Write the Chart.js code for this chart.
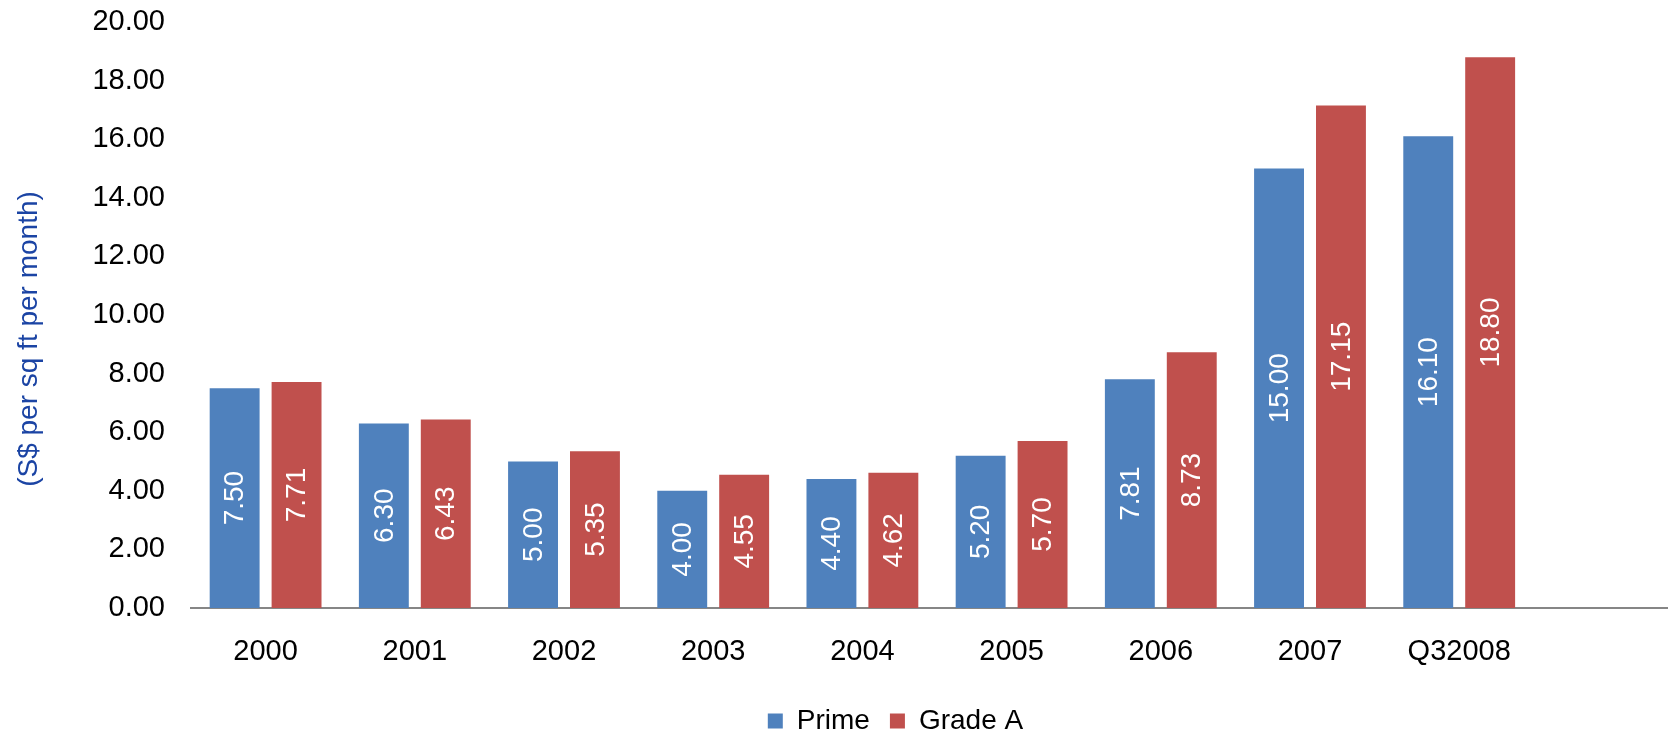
<!DOCTYPE html>
<html>
<head>
<meta charset="utf-8">
<title>Office rents</title>
<script src="https://cdn.jsdelivr.net/npm/chart.js@4.4.1/dist/chart.umd.min.js"></script>
<style>
  html, body { margin: 0; padding: 0; background: #fff; overflow: hidden; }
  #wrap { width: 1791px; height: 745px; }
</style>
</head>
<body>
<div id="wrap"><canvas id="c" width="1791" height="745"></canvas></div>
<script>
// Periods on the x axis (last slot left empty)
const categories = ['2000', '2001', '2002', '2003', '2004', '2005', '2006', '2007', 'Q32008', ''];
// Monthly rents, S$ per sq ft
const primeRents  = [7.50, 6.30, 5.00, 4.00, 4.40, 5.20, 7.81, 15.00, 16.10, null];
const gradeARents = [7.71, 6.43, 5.35, 4.55, 4.62, 5.70, 8.73, 17.15, 18.80, null];
const yTicks = [0, 2, 4, 6, 8, 10, 12, 14, 16, 18, 20];
const yTitle = '(S$ per sq ft per month)';

const FONT = 'Liberation Sans, Arial, Helvetica, sans-serif';

// Writes each value vertically, centred inside its bar
const barValueLabels = {
  id: 'barValueLabels',
  afterDatasetsDraw(chart) {
    const ctx = chart.ctx;
    ctx.save();
    ctx.font = '28px ' + FONT;
    ctx.fillStyle = '#ffffff';
    ctx.textAlign = 'center';
    ctx.textBaseline = 'middle';
    chart.data.datasets.forEach((ds, di) => {
      const meta = chart.getDatasetMeta(di);
      meta.data.forEach((bar, i) => {
        const v = ds.data[i];
        if (v === null || v === undefined) return;
        const cy = (bar.y + bar.base) / 2;
        ctx.save();
        ctx.translate(bar.x + 1, cy);
        ctx.rotate(-Math.PI / 2);
        ctx.fillText(v.toFixed(2), 0, 0);
        ctx.restore();
      });
    });
    ctx.restore();
  }
};

// Vertical unit caption beside the value axis, sitting a little below mid-height
const unitCaption = {
  id: 'unitCaption',
  afterDraw(chart) {
    const ctx = chart.ctx;
    const area = chart.chartArea;
    ctx.save();
    ctx.font = '28px ' + FONT;
    ctx.fillStyle = '#1B44A4';
    ctx.textAlign = 'center';
    ctx.textBaseline = 'middle';
    ctx.translate(29, (area.top + area.bottom) / 2 + 24);
    ctx.rotate(-Math.PI / 2);
    ctx.fillText(yTitle, 0, 0);
    ctx.restore();
  }
};

new Chart(document.getElementById('c'), {
  type: 'bar',
  data: {
    labels: categories,
    datasets: [
      { label: 'Prime', data: primeRents, backgroundColor: '#4F81BD', borderWidth: 0 },
      { label: 'Grade A', data: gradeARents, backgroundColor: '#C0504D', borderWidth: 0 }
    ]
  },
  options: {
    responsive: false,
    animation: false,
    events: [],
    layout: { padding: { top: 22, left: 0, right: 0, bottom: 0 } },
    datasets: { bar: { categoryPercentage: 0.83, barPercentage: 0.806 } },
    scales: {
      x: {
        grid: { display: false, drawTicks: false },
        border: { display: true, color: '#868686', width: 2 },
        ticks: { color: '#000', font: { family: FONT, size: 29 }, padding: 27, maxRotation: 0, autoSkip: false },
        afterFit(s) { s.height = 79; }
      },
      y: {
        min: 0,
        max: 20,
        afterBuildTicks(s) { s.ticks = yTicks.map(v => ({ value: v })); },
        grid: { display: false, drawTicks: true, tickLength: 26 },
        border: { display: false },
        ticks: { color: '#000', font: { family: FONT, size: 29 }, padding: 0, callback: v => Number(v).toFixed(2) },
        afterFit(s) { s.width = 191; }
      },
      spacer: {
        type: 'linear',
        position: 'right',
        display: true,
        grid: { display: false, drawTicks: false },
        border: { display: false },
        ticks: { display: false },
        afterFit(s) { s.width = 108; }
      }
    },
    plugins: {
      legend: {
        position: 'bottom',
        labels: {
          color: '#000',
          font: { family: FONT, size: 28 },
          boxWidth: 15,
          boxHeight: 15,
          padding: 20
        }
      },
      tooltip: { enabled: false }
    }
  },
  plugins: [barValueLabels, unitCaption]
});
</script>
</body>
</html>
